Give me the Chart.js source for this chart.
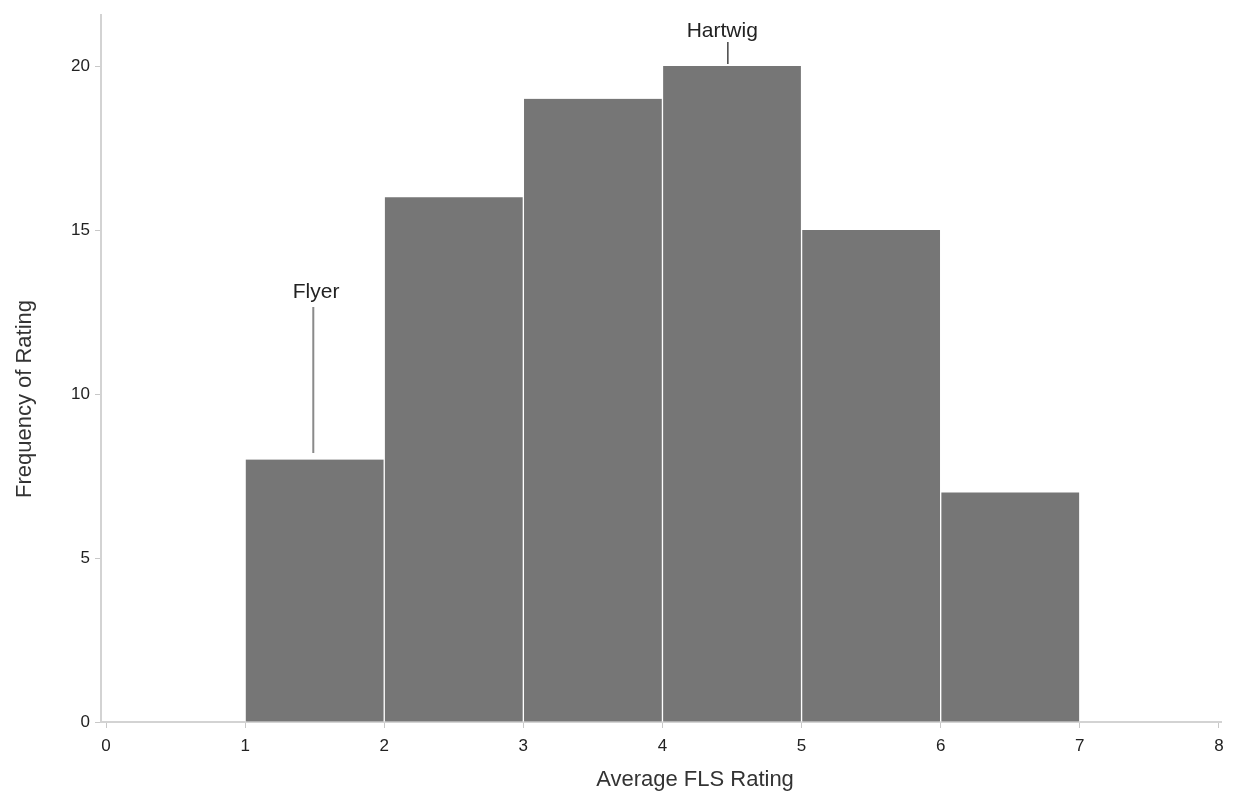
<!DOCTYPE html>
<html lang="en">
<head>
    <meta charset="UTF-8">
    <title>Average FLS Rating</title>
    <script src="https://cdn.jsdelivr.net/npm/chart.js@4"></script>
    <style>
        body {
            margin: 0;
            background-color: #ffffff;
            font-family: "Liberation Sans", Arial, sans-serif;
        }

        .chart-box {
            width: 1233px;
            height: 795px;
        }
    </style>
</head>
<body>
    <div class="chart-box">
        <canvas id="histChart" width="1233" height="795"></canvas>
    </div>

    <script>
        // histogram bins (rating ranges) and counts
        const binStart = [1, 2, 3, 4, 5, 6];
        const binEnd = [2, 3, 4, 5, 6, 7];
        const counts = [8, 16, 19, 20, 15, 7];

        // labelled programs
        const noteNames = ['Flyer', 'Hartwig'];
        const noteX = [1.49, 4.47];
        const noteFrom = [8.2, 20.06];
        const noteTo = [12.65, 20.73];
        const noteTextX = [1.51, 4.43];
        const noteTextY = [13.1, 21.07];
        const noteColors = ['#8a8a8a', '#444444'];

        const FONT = '"Liberation Sans", Arial, sans-serif';

        const barPoints = binStart.map((s, i) => ({ x: (s + binEnd[i]) / 2, y: counts[i] }));

        const noteDatasets = noteNames.map((name, i) => ({
            type: 'line',
            label: name,
            data: [{ x: noteX[i], y: noteFrom[i] }, { x: noteX[i], y: noteTo[i] }],
            borderColor: noteColors[i],
            borderWidth: i === 0 ? 2 : 1.5,
            pointRadius: 0,
            fill: false
        }));

        // annotation text + axis titles
        const textPlugin = {
            id: 'textPlugin',
            afterDraw(chart) {
                const ctx = chart.ctx;
                const xs = chart.scales.x;
                const ys = chart.scales.y;
                ctx.save();
                ctx.fillStyle = '#222';
                ctx.textAlign = 'center';
                ctx.textBaseline = 'middle';
                ctx.font = '21px ' + FONT;
                noteNames.forEach((name, i) => {
                    ctx.fillText(name, xs.getPixelForValue(noteTextX[i]), ys.getPixelForValue(noteTextY[i]));
                });

                ctx.font = '22px ' + FONT;
                ctx.fillStyle = '#333';
                ctx.fillText('Average FLS Rating', 695, 780);

                ctx.translate(25, 399);
                ctx.rotate(-Math.PI / 2);
                ctx.fillText('Frequency of Rating', 0, 0);
                ctx.restore();
            }
        };

        const ctx = document.getElementById('histChart').getContext('2d');
        new Chart(ctx, {
            data: {
                datasets: [{
                    type: 'bar',
                    label: 'Frequency of Rating',
                    data: barPoints,
                    backgroundColor: '#767676',
                    borderColor: '#ffffff',
                    borderWidth: { left: 1, right: 1, top: 0, bottom: 0 },
                    borderSkipped: false,
                    categoryPercentage: 1,
                    barPercentage: 1
                }, ...noteDatasets]
            },
            options: {
                responsive: false,
                animation: false,
                layout: {
                    padding: { top: 12, right: 12, left: 0, bottom: 0 }
                },
                plugins: {
                    legend: { display: false },
                    tooltip: { enabled: false }
                },
                scales: {
                    x: {
                        type: 'linear',
                        offset: false,
                        min: -0.036,
                        max: 8.015,
                        grid: {
                            offset: false,
                            drawOnChartArea: false,
                            drawTicks: true,
                            tickLength: 6,
                            color: '#c8c8c8'
                        },
                        border: { display: true, color: '#d3d3d3', width: 2 },
                        ticks: {
                            stepSize: 1,
                            includeBounds: false,
                            padding: 8,
                            color: '#222',
                            font: { family: FONT, size: 17 }
                        },
                        afterFit(scale) { scale.height = 73; }
                    },
                    y: {
                        type: 'linear',
                        min: 0,
                        max: 21.55,
                        grid: {
                            drawOnChartArea: false,
                            drawTicks: true,
                            tickLength: 6,
                            color: '#c8c8c8'
                        },
                        border: { display: true, color: '#d3d3d3', width: 2 },
                        ticks: {
                            stepSize: 5,
                            includeBounds: false,
                            padding: 5,
                            color: '#222',
                            font: { family: FONT, size: 17 }
                        },
                        afterFit(scale) { scale.width = 101; }
                    }
                }
            },
            plugins: [textPlugin]
        });
    </script>
</body>
</html>
